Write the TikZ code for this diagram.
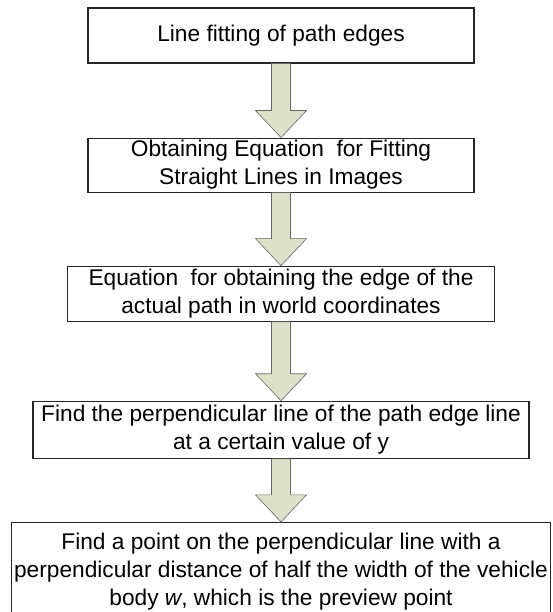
\documentclass[tikz,border=0pt]{standalone}
\usepackage{fontspec}
\setmainfont{Liberation Sans}
\usetikzlibrary{positioning,calc}
\definecolor{arrowfill}{HTML}{DDE1C9}

\begin{document}
\begin{tikzpicture}
[
    stage/.style={draw=black!85, line width=1.1pt, fill=white, align=center,
        inner xsep=3pt, inner ysep=0pt, font=\fontsize{22.7}{28}\selectfont},
    flow/.style={draw=black!60, line width=0.6pt, fill=arrowfill,
        to path={let \p1=(\tikztostart), \p2=(\tikztotarget) in
        (\x1-9.5,\y1) -- (\x1-9.5,\y2+27) -- (\x1-25.5,\y2+27) -- (\x1,\y2)
        -- (\x1+25.5,\y2+27) -- (\x1+9.5,\y2+27) -- (\x1+9.5,\y1) -- cycle}},
]
\useasboundingbox (0,0) rectangle (552pt,-612pt);
\node [stage, minimum width=386pt, minimum height=55pt] (fitting) at (281pt,-35.5pt)
{Line fitting of path edges};
\node [stage, minimum width=386pt, minimum height=54pt, below=74pt of fitting] (imageline)
{Obtaining Equation\ \ for Fitting\\Straight Lines in Images};
\node [stage, minimum width=427pt, minimum height=55pt, below=73pt of imageline] (worldedge)
{Equation\ \ for obtaining the edge of the\\actual path in world coordinates};
\node [stage, minimum width=496pt, minimum height=57pt, below=79pt of worldedge] (perpline)
{Find the perpendicular line of the path edge line\\at a certain value of y};
\node [stage, minimum width=536pt, minimum height=99pt, below=63pt of perpline] (preview)
{Find a point on the perpendicular line with a\\perpendicular distance of half the width of the vehicle\\body \textit{w}, which is the preview point};
\draw [flow] (fitting.south) to (imageline.north);
\draw [flow] (imageline.south) to (worldedge.north);
\draw [flow] (worldedge.south) to (perpline.north);
\draw [flow] (perpline.south) to (preview.north);
\end{tikzpicture}
\end{document}
